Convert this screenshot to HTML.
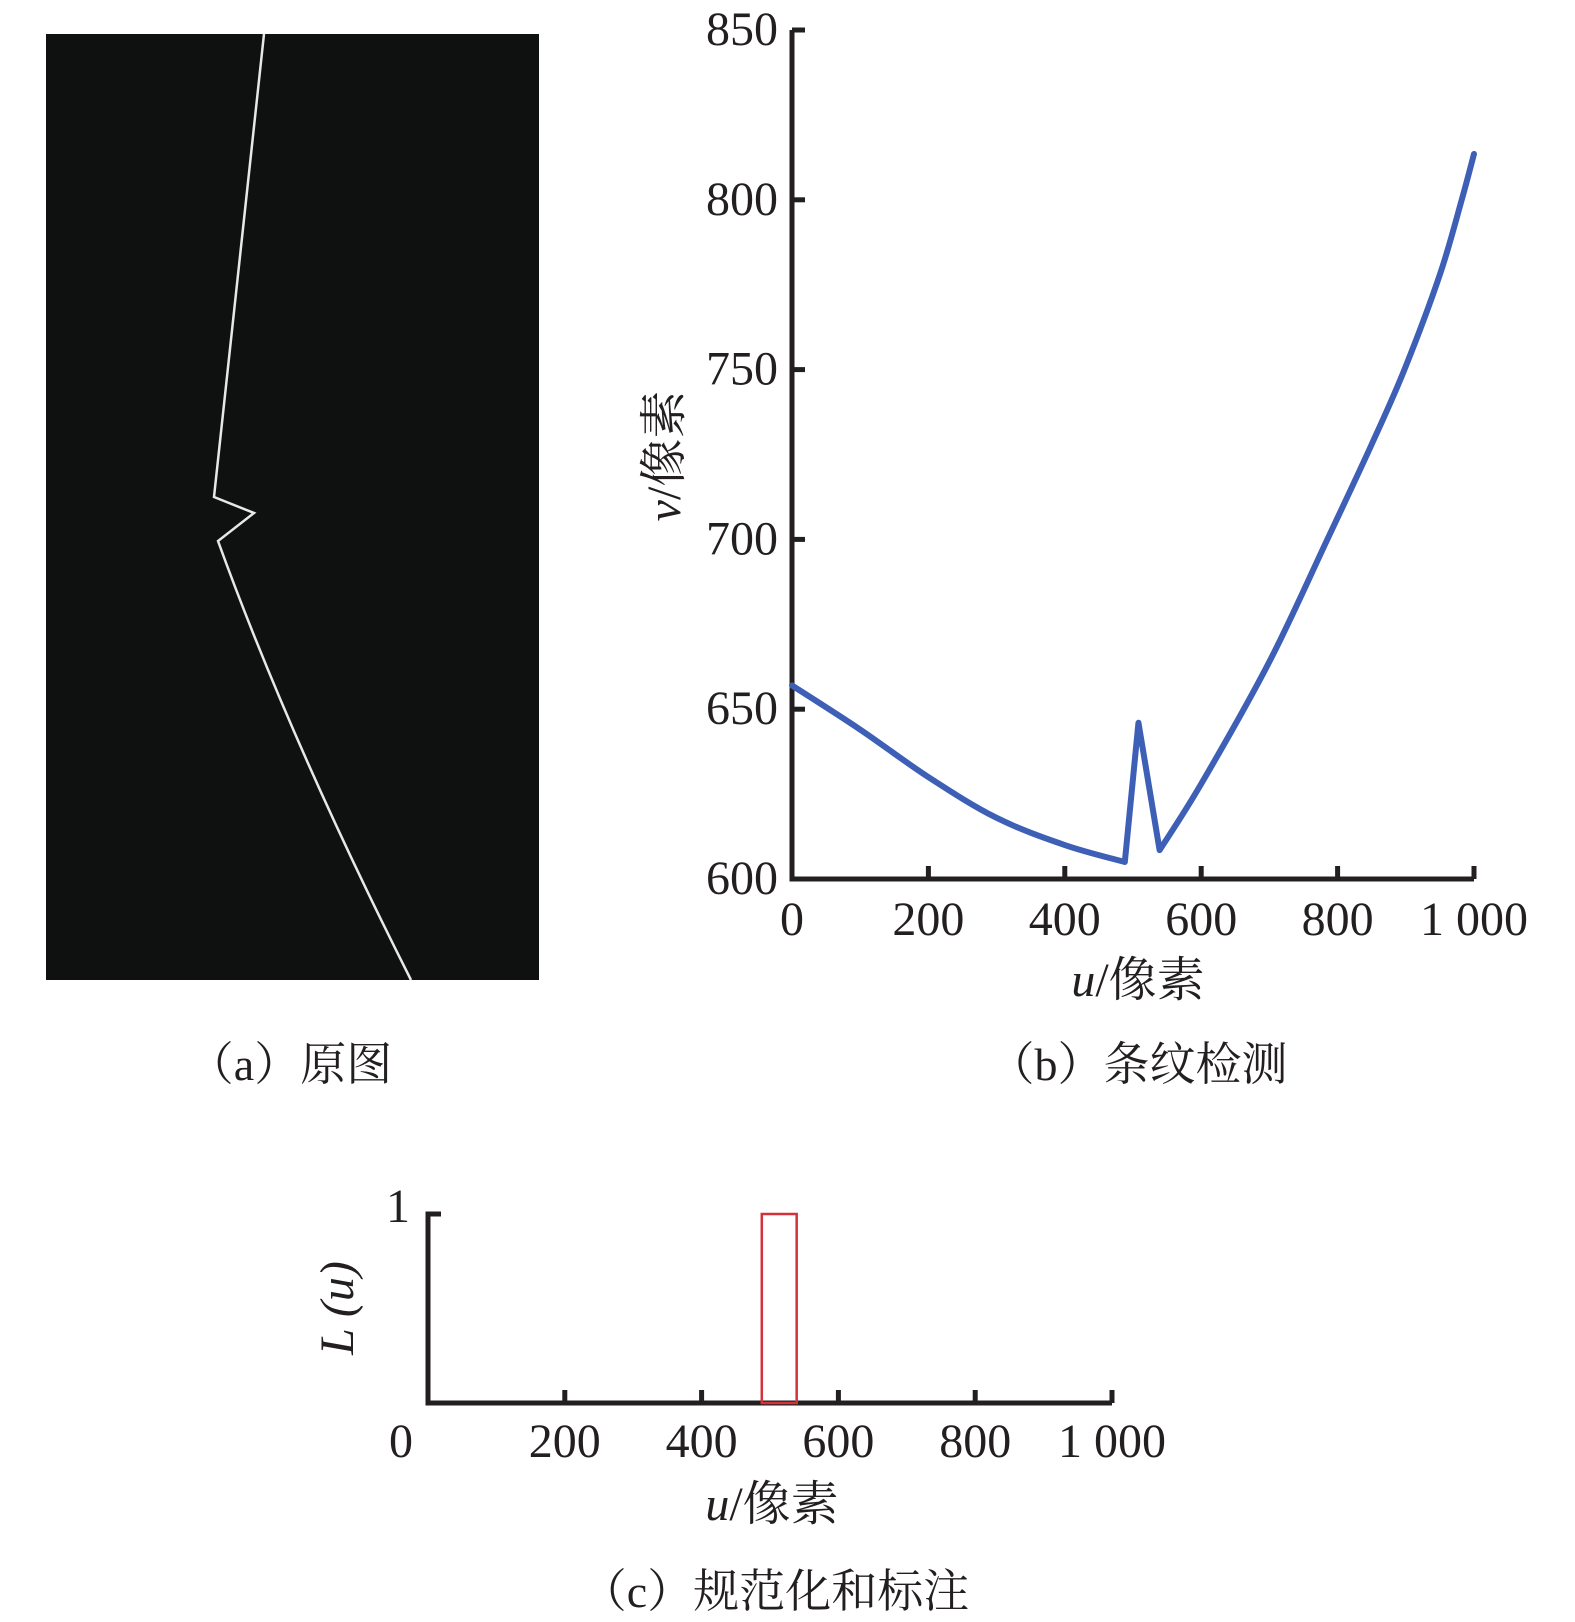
<!DOCTYPE html>
<html><head><meta charset="utf-8">
<style>
html,body{margin:0;padding:0;background:#fff;}
svg{display:block;font-family:"Liberation Serif","Noto Serif CJK SC",serif;}
</style></head>
<body>
<svg id="fig" width="1575" height="1622" viewBox="0 0 1575 1622" xmlns="http://www.w3.org/2000/svg">
  <g>
    <rect x="46" y="34" width="493" height="946" fill="#0f1110"/>
    <path d="M264,34 Q238,270 214,497 L254,513 L218,541 Q290,740 411,980" fill="none" stroke="#e8e8e8" stroke-width="2.5"/>
  </g>
  <text x="290" y="1080" font-size="46" text-anchor="middle" fill="#231f20">（a）原图</text>

  <g id="chartB"></g>
  <text x="1138" y="1080" font-size="46" text-anchor="middle" fill="#231f20">（b）条纹检测</text>

  <g id="chartC"></g>
  <text x="775" y="1607" font-size="46" text-anchor="middle" fill="#231f20">（c）规范化和标注</text>
</svg>
<script>
const NS="http://www.w3.org/2000/svg";
// Chart b data
const uValues=[0,100,200,300,400,488,508,539,600,700,785,850,898,950,982,1000];
const vValues=[657,644,630,618,610,605,646,608.5,628,664,700,728,750,778,800,813.5];
const kinkIndices=[5,6,7];
const xTicksB=[0,200,400,600,800,1000];
const xTickLabelsB=["0","200","400","600","800","1 000"];
const yTicksB=[600,650,700,750,800,850];
// Chart c data
const labelStart=[488];
const labelEnd=[539];
const labelValue=[1];
const xTicksC=[0,200,400,600,800,1000];
const xTickLabelsC=["0","200","400","600","800","1 000"];

function mk(tag,attrs,parent){const e=document.createElementNS(NS,tag);for(const k in attrs)e.setAttribute(k,attrs[k]);parent.appendChild(e);return e;}

// ---- Chart B ----
const gB=document.getElementById('chartB');
const bx=u=>792+(u-0)*(1474-792)/1000;
const by=v=>879-(v-600)*(879-30)/250;
let ax=mk('path',{d:`M${bx(0)},${by(850)} L${bx(0)},${by(600)} L${bx(1000)},${by(600)}`,fill:'none',stroke:'#231f20','stroke-width':5},gB);


xTicksB.forEach((t,i)=>{
  const tk=mk('line',{x1:bx(t),x2:bx(t),y1:by(600),y2:by(600)-13,stroke:'#231f20','stroke-width':5},gB);
  
  
  const tl=mk('text',{x:bx(t),y:by(600)+56,'font-size':48,'text-anchor':'middle',fill:'#231f20'},gB);
  tl.textContent=xTickLabelsB[i];
  
  
});
yTicksB.forEach(t=>{
  const tk=mk('line',{x1:bx(0),x2:bx(0)+13,y1:by(t),y2:by(t),stroke:'#231f20','stroke-width':5},gB);
  
  
  const tl=mk('text',{x:778,y:by(t)+15,'font-size':48,'text-anchor':'end',fill:'#231f20'},gB);
  tl.textContent=String(t);
  
  
});
// smoothed path with kinks preserved
const P=uValues.map((u,i)=>[bx(u),by(vValues[i])]);
let d=`M${P[0][0]},${P[0][1]}`;
for(let i=0;i<P.length-1;i++){
  const p1=P[i],p2=P[i+1];
  const sharp=kinkIndices.includes(i)&&kinkIndices.includes(i+1);
  if(sharp){d+=` L${p2[0]},${p2[1]}`;continue;}
  const p0=(i>0&&!kinkIndices.includes(i)||i===0)?(P[i-1]||p1):p1;
  const p3=(!kinkIndices.includes(i+1)&&P[i+2])?P[i+2]:p2;
  const c1=[p1[0]+(p2[0]-p0[0])/6,p1[1]+(p2[1]-p0[1])/6];
  const c2=[p2[0]-(p3[0]-p1[0])/6,p2[1]-(p3[1]-p1[1])/6];
  d+=` C${c1[0]},${c1[1]} ${c2[0]},${c2[1]} ${p2[0]},${p2[1]}`;
}
const line=mk('path',{d:d,fill:'none',stroke:'#3d5fb6','stroke-width':6,'stroke-linejoin':'round','stroke-linecap':'round'},gB);


const xtB=mk('text',{x:1138,y:996,'font-size':48,'text-anchor':'middle',fill:'#231f20'},gB);
xtB.innerHTML='<tspan font-style="italic">u</tspan>/像素';


const ytB=mk('text',{x:0,y:0,'font-size':48,'text-anchor':'middle',fill:'#231f20',transform:'translate(680,456) rotate(-90)'},gB);
ytB.innerHTML='<tspan font-style="italic">v</tspan>/像素';



// ---- Chart C ----
const gC=document.getElementById('chartC');
const cx=u=>428+u*(1112-428)/1000;
const cy=v=>1403-v*(1403-1214);
let axc=mk('path',{d:`M${cx(0)+13},${cy(1)} L${cx(0)},${cy(1)} L${cx(0)},${cy(0)} L${cx(1000)},${cy(0)}`,fill:'none',stroke:'#231f20','stroke-width':5},gC);


xTicksC.forEach((t,i)=>{
  if(t>0){
  const tk=mk('line',{x1:cx(t),x2:cx(t),y1:cy(0),y2:cy(0)-13,stroke:'#231f20','stroke-width':5},gC);
  
  
  }
  const tl=mk('text',{x:t===0?cx(t)-27:cx(t),y:cy(0)+54,'font-size':48,'text-anchor':'middle',fill:'#231f20'},gC);
  tl.textContent=xTickLabelsC[i];
  
  
});
const y1l=mk('text',{x:410,y:1222,'font-size':48,'text-anchor':'end',fill:'#231f20'},gC);
y1l.textContent='1';


labelStart.forEach((s,i)=>{
  const r=mk('rect',{x:cx(s),y:cy(labelValue[i]),width:cx(labelEnd[i])-cx(s),height:cy(0)-cy(labelValue[i]),fill:'none',stroke:'#d3323a','stroke-width':2.5},gC);
  
  
});
const xtC=mk('text',{x:772,y:1520,'font-size':48,'text-anchor':'middle',fill:'#231f20'},gC);
xtC.innerHTML='<tspan font-style="italic">u</tspan>/像素';


const ytC=mk('text',{x:0,y:0,'font-size':48,'text-anchor':'middle',fill:'#231f20','font-style':'italic',transform:'translate(353,1308) rotate(-90)'},gC);
ytC.textContent='L (u)';


</script>
</body></html>
